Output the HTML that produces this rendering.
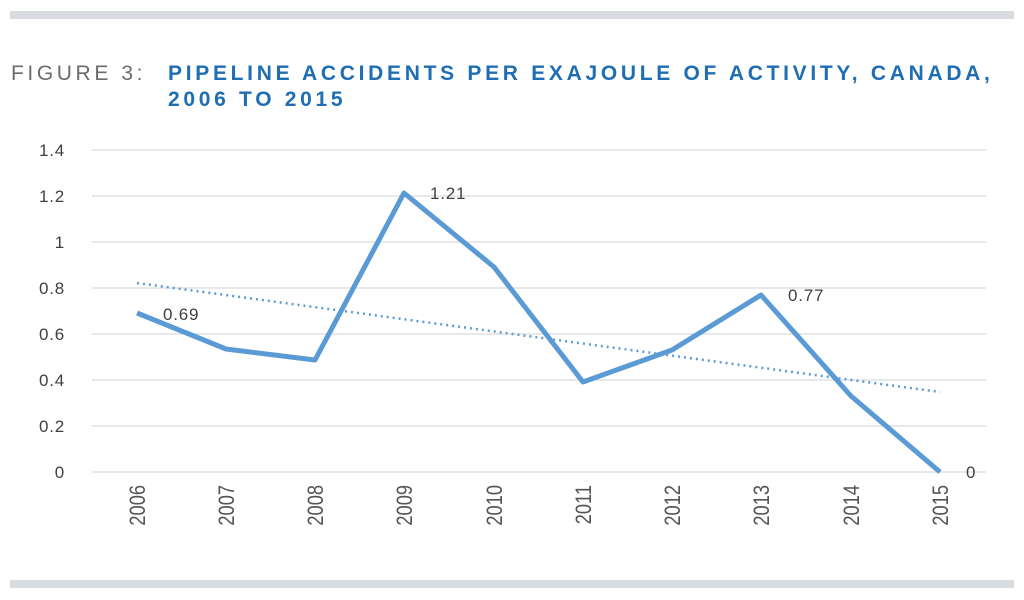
<!DOCTYPE html>
<html><head><meta charset="utf-8"><style>
body{margin:0;background:#fff;width:1024px;height:595px;overflow:hidden;font-family:"Liberation Sans",sans-serif}
</style></head><body>
<svg width="1024" height="595" viewBox="0 0 1024 595" xmlns="http://www.w3.org/2000/svg">
<rect x="10" y="11" width="1004" height="8" fill="#d8dbe0"/>
<rect x="10" y="580" width="1004" height="8" fill="#d8dbe0"/>
<text x="11" y="80" font-size="21" fill="#6b6b6b" letter-spacing="3.6">FIGURE 3:</text>
<g font-size="21" font-weight="bold" fill="#1f6db3" letter-spacing="3.7">
<text x="168" y="80">PIPELINE ACCIDENTS PER EXAJOULE OF ACTIVITY, CANADA,</text>
<text x="168" y="106">2006 TO 2015</text>
</g>
<g stroke="#d9d9d9" stroke-width="1.3">
<line x1="92" x2="986" y1="150" y2="150"/><line x1="92" x2="986" y1="196" y2="196"/>
<line x1="92" x2="986" y1="242" y2="242"/><line x1="92" x2="986" y1="288" y2="288"/>
<line x1="92" x2="986" y1="334" y2="334"/><line x1="92" x2="986" y1="380" y2="380"/>
<line x1="92" x2="986" y1="426" y2="426"/><line x1="92" x2="986" y1="472" y2="472"/>
</g>
<g font-size="17" fill="#404040" text-anchor="end" letter-spacing="0.8">
<text x="65" y="156">1.4</text><text x="65" y="202">1.2</text><text x="65" y="248">1</text>
<text x="65" y="294">0.8</text><text x="65" y="340">0.6</text><text x="65" y="386">0.4</text>
<text x="65" y="432">0.2</text><text x="65" y="478">0</text>
</g>
<g font-size="22" fill="#555" text-anchor="end">
<text transform="translate(145,485) rotate(-90) scale(0.83,1)">2006</text>
<text transform="translate(234,485) rotate(-90) scale(0.83,1)">2007</text>
<text transform="translate(323,485) rotate(-90) scale(0.83,1)">2008</text>
<text transform="translate(412,485) rotate(-90) scale(0.83,1)">2009</text>
<text transform="translate(502,485) rotate(-90) scale(0.83,1)">2010</text>
<text transform="translate(591,485) rotate(-90) scale(0.83,1)">2011</text>
<text transform="translate(680,485) rotate(-90) scale(0.83,1)">2012</text>
<text transform="translate(769,485) rotate(-90) scale(0.83,1)">2013</text>
<text transform="translate(859,485) rotate(-90) scale(0.83,1)">2014</text>
<text transform="translate(948,485) rotate(-90) scale(0.83,1)">2015</text>
</g>
<line x1="137" y1="283" x2="940" y2="392" stroke="#5b9bd5" stroke-width="2.5" stroke-dasharray="2,4"/>
<polyline fill="none" stroke="#5b9bd5" stroke-width="5" stroke-linejoin="round" points="137,313 226,349 315,360 404,193 494,267 583,382 672,350 761,295 851,396 940,472"/>
<g font-size="17" fill="#404040" letter-spacing="0.8">
<text x="163" y="320">0.69</text><text x="430" y="199">1.21</text>
<text x="788" y="301">0.77</text><text x="966" y="478">0</text>
</g>
</svg>
</body></html>
